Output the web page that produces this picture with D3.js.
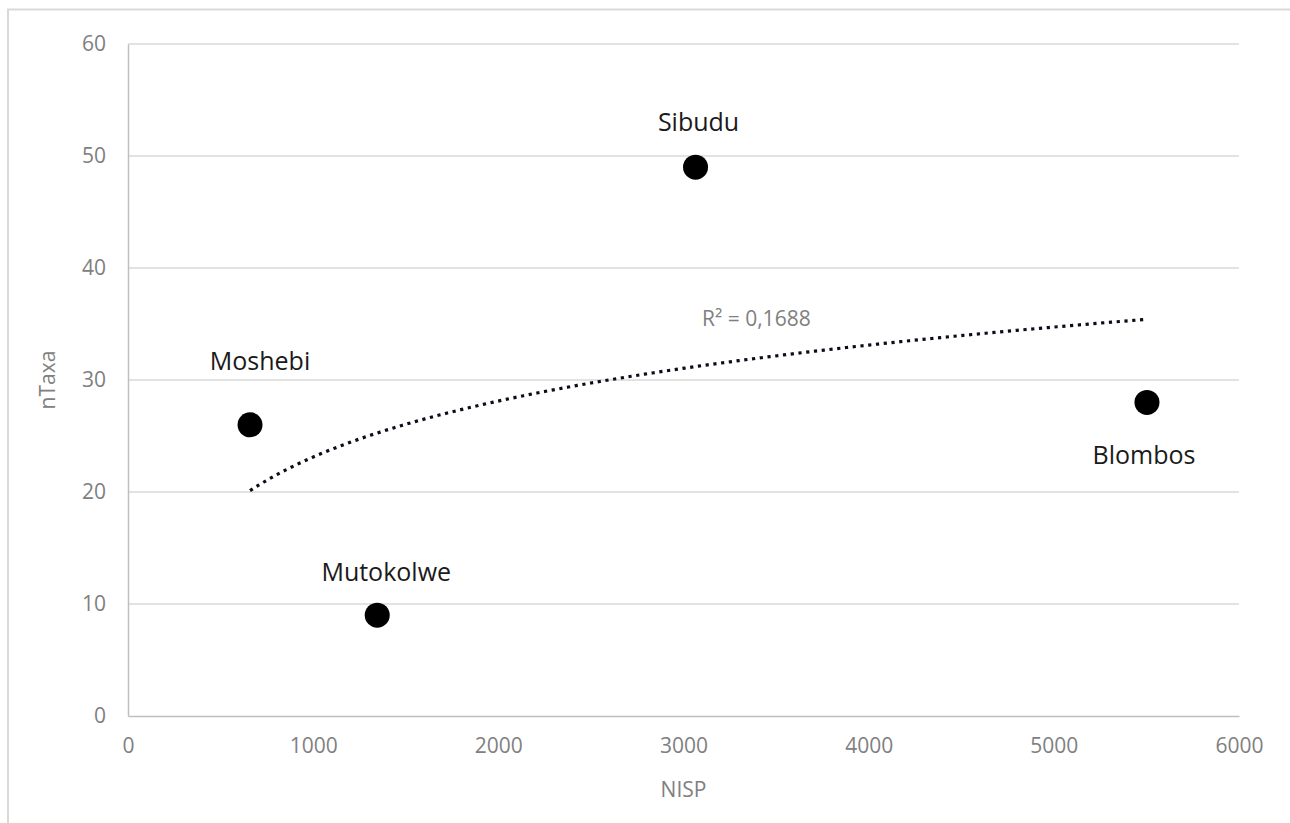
<!DOCTYPE html>
<html>
<head>
<meta charset="utf-8">
<script src="https://cdn.jsdelivr.net/npm/d3@7/dist/d3.min.js"></script>
<style>
  html, body { margin: 0; padding: 0; background: #fff; }
  svg { display: block; }
  text { font-family: "Open Sans", Lato, sans-serif; }
</style>
</head>
<body>
<svg id="chart" width="1290" height="823"></svg>
<script>
// Sites: NISP against number of taxa
const sites = ["Moshebi", "Mutokolwe", "Sibudu", "Blombos"];
const nisp = [659, 1346, 3065, 5503];
const nTaxa = [26, 9, 49, 28];
const xTicks = [0, 1000, 2000, 3000, 4000, 5000, 6000];
const yTicks = [0, 10, 20, 30, 40, 50, 60];
const rSquaredLabel = "R² = 0,1688";

const W = 1290, H = 823;
const margin = { left: 128, right: 51, top: 44, bottom: 107 };
const svg = d3.select("#chart");

// outer chart frame
svg.append("rect")
  .attr("x", 8).attr("y", 9.5)
  .attr("width", W + 20).attr("height", H + 20)
  .attr("fill", "none").attr("stroke", "#d9d9d9").attr("stroke-width", 2);

const x = d3.scaleLinear().domain([0, 6000]).range([margin.left, W - margin.right]);
const y = d3.scaleLinear().domain([0, 60]).range([H - margin.bottom, margin.top]);

// horizontal gridlines
svg.append("g")
  .selectAll("line")
  .data(yTicks.filter(d => d > 0))
  .join("line")
  .attr("x1", x(0)).attr("x2", x(6000))
  .attr("y1", d => y(d)).attr("y2", d => y(d))
  .attr("stroke", "#d9d9d9").attr("stroke-width", 1.5);

// axes
const xAxis = svg.append("g")
  .attr("transform", `translate(0,${y(0)})`)
  .call(d3.axisBottom(x).tickValues(xTicks).tickSize(0).tickPadding(22).tickFormat(d3.format("d")));
const yAxis = svg.append("g")
  .attr("transform", `translate(${x(0)},0)`)
  .call(d3.axisLeft(y).tickValues(yTicks).tickSize(0).tickPadding(22).tickFormat(d3.format("d")));

[xAxis, yAxis].forEach(g => {
  g.select(".domain").attr("stroke", "#bfbfbf").attr("stroke-width", 1.5);
  g.selectAll("text").attr("fill", "#808080").style("font-size", "21px")
    .style("font-family", "'Open Sans', Lato, sans-serif");
});

// axis titles
svg.append("text")
  .attr("x", (x(0) + x(6000)) / 2).attr("y", 797)
  .attr("text-anchor", "middle").attr("fill", "#808080")
  .style("font-size", "21px").text("NISP");
svg.append("text")
  .attr("transform", `translate(55,${(y(0) + y(60)) / 2}) rotate(-90)`)
  .attr("text-anchor", "middle").attr("fill", "#808080")
  .style("font-size", "21px").text("nTaxa");

// logarithmic trendline fitted by least squares: y = a ln(x) + b
const lx = nisp.map(Math.log);
const mx = d3.mean(lx), my = d3.mean(nTaxa);
const sxy = d3.sum(lx, (v, i) => (v - mx) * (nTaxa[i] - my));
const sxx = d3.sum(lx, v => (v - mx) ** 2);
const a = sxy / sxx, b = my - a * mx;
const [xmin, xmax] = d3.extent(nisp);
const curve = d3.range(0, 201).map(i => {
  const xv = xmin + (xmax - xmin) * i / 200;
  return [xv, a * Math.log(xv) + b];
});
svg.append("path")
  .datum(curve)
  .attr("d", d3.line().x(d => x(d[0])).y(d => y(d[1])))
  .attr("fill", "none").attr("stroke", "#0d0d1a")
  .attr("stroke-width", 3.2).attr("stroke-dasharray", "3.2,4.6");

svg.append("text")
  .attr("x", 702).attr("y", 326)
  .attr("fill", "#808080").style("font-size", "21px")
  .text(rSquaredLabel);

// points
svg.append("g")
  .selectAll("circle")
  .data(sites)
  .join("circle")
  .attr("cx", (d, i) => x(nisp[i]))
  .attr("cy", (d, i) => y(nTaxa[i]))
  .attr("r", 12.5)
  .attr("fill", "#000");

// site labels (offset from point)
const labelOffset = { Moshebi: [10, -55], Mutokolwe: [9, -34], Sibudu: [3, -36], Blombos: [-3, 62] };
svg.append("g")
  .selectAll("text")
  .data(sites)
  .join("text")
  .attr("x", (d, i) => x(nisp[i]) + labelOffset[d][0])
  .attr("y", (d, i) => y(nTaxa[i]) + labelOffset[d][1])
  .attr("text-anchor", "middle")
  .attr("fill", "#1a1a1a")
  .style("font-size", "25px")
  .text(d => d);
</script>
</body>
</html>
